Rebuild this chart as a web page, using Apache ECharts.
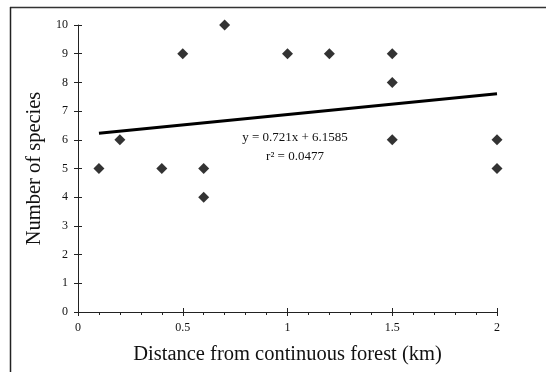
<!DOCTYPE html>
<html><head><meta charset="utf-8">
<script src="https://cdn.jsdelivr.net/npm/echarts@6/dist/echarts.min.js"></script>
<style>html,body{margin:0;padding:0;background:#fff}#c{width:546px;height:372px}</style>
</head><body><div id="c"></div>
<script>
var distance = [0.1, 0.2, 0.4, 0.5, 0.6, 0.6, 0.7, 1.0, 1.2, 1.5, 1.5, 1.5, 2.0, 2.0];
var species  = [5,   6,   5,   9,   5,   4,   10,  9,   9,   9,   8,   6,   6,   5];
var trendSlope = 0.721;
var trendIntercept = 6.1585;
var trendX = [0.1, 2.0];
var xTicks = [0, 0.5, 1, 1.5, 2];
var yTicks = [0,1,2,3,4,5,6,7,8,9,10];
var eqText = 'y = 0.721x + 6.1585';
var r2Text = 'r\u00B2 = 0.0477';

var pts = distance.map(function(d,i){return [d, species[i]];});
var trend = trendX.map(function(x){return [x, trendSlope*x + trendIntercept];});
var font = 'Liberation Serif, Times New Roman, serif';

var chart = echarts.init(document.getElementById('c'), null, {renderer:'canvas'});
chart.setOption({
  animation:false,
  backgroundColor:'#fff',
  grid:{left:78, right:49, top:25, bottom:60},
  xAxis:[{
    type:'value', min:0, max:2, interval:0.5,
    axisLine:{lineStyle:{color:'#222', width:1}},
    axisTick:{show:true, length:4, lineStyle:{color:'#222'}},
    minorTick:{show:true, splitNumber:5, length:3, lineStyle:{color:'#222'}},
    splitLine:{show:false},
    axisLabel:{color:'#111', fontFamily:font, fontSize:12, margin:10,
      formatter:function(v){return String(v);}},
    name:'Distance from continuous forest (km)', nameLocation:'middle', nameGap:32,
    nameTextStyle:{color:'#111', fontFamily:font, fontSize:20.5}
  },{
    type:'value', min:0, max:2, interval:0.5, position:'bottom',
    axisLine:{show:false},
    axisTick:{show:true, inside:true, length:4, lineStyle:{color:'#222'}},
    axisLabel:{show:false}, splitLine:{show:false}
  }],
  yAxis:[{
    type:'value', min:0, max:10, interval:1,
    axisLine:{show:true, lineStyle:{color:'#222', width:1}},
    axisTick:{show:true, length:4, lineStyle:{color:'#222'}},
    splitLine:{show:false},
    axisLabel:{color:'#111', fontFamily:font, fontSize:12, margin:10},
    name:'Number of species', nameLocation:'middle', nameGap:26,
    nameTextStyle:{color:'#111', fontFamily:font, fontSize:20.5}
  },{
    type:'value', min:0, max:10, interval:1, position:'left',
    axisLine:{show:false},
    axisTick:{show:true, inside:true, length:4, lineStyle:{color:'#222'}},
    axisLabel:{show:false}, splitLine:{show:false}
  }],
  series:[{
    type:'scatter', data:pts, symbol:'diamond', symbolSize:11,
    itemStyle:{color:'#000'}, z:3
  },{
    type:'line', data:trend, symbol:'none', lineStyle:{color:'#000', width:3}, z:2
  }],
  graphic:[
    {type:'line', shape:{x1:10, y1:7.5, x2:546, y2:7.5}, style:{stroke:'#333', lineWidth:1.5}},
    {type:'line', shape:{x1:10.5, y1:7, x2:10.5, y2:372}, style:{stroke:'#222', lineWidth:1.5}},
    {type:'text', x:295, y:138, style:{text:eqText, font:'13px '+font, fill:'#111', align:'center', verticalAlign:'middle'}},
    {type:'text', x:295, y:157, style:{text:r2Text, font:'13px '+font, fill:'#111', align:'center', verticalAlign:'middle'}}
  ]
});
</script></body></html>
